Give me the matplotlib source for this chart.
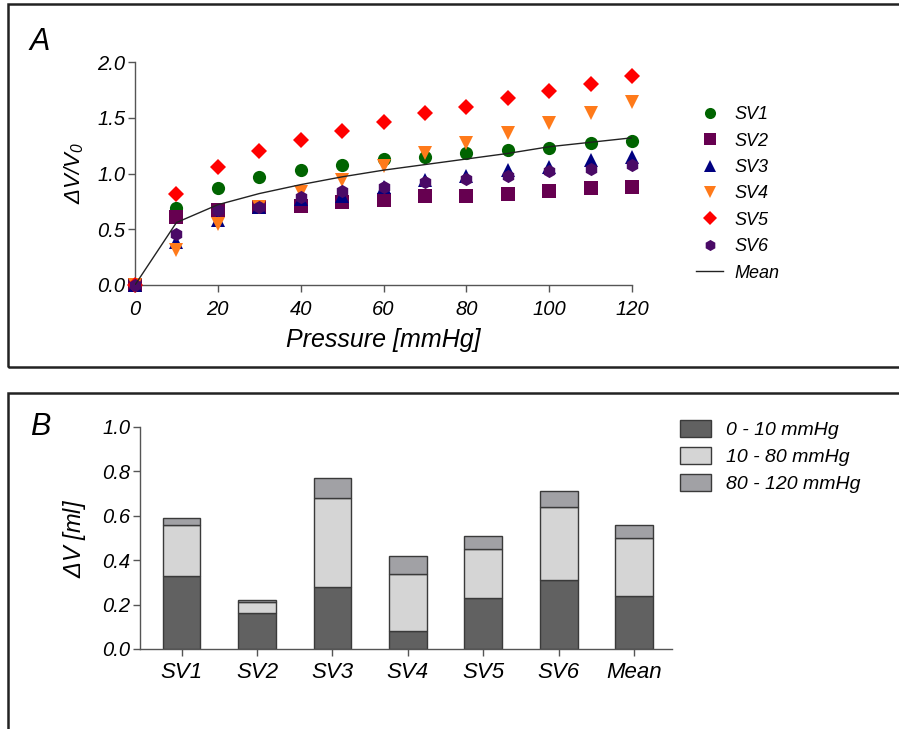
import numpy as np
import matplotlib.pyplot as plt
from matplotlib.patches import Rectangle
from matplotlib.lines import Line2D

plt.rcParams['font.family'] = ['Liberation Sans', 'DejaVu Sans']
plt.rcParams['font.style'] = 'italic'
plt.rcParams['mathtext.fontset'] = 'custom'
plt.rcParams['mathtext.rm'] = 'Liberation Sans:italic'
plt.rcParams['mathtext.it'] = 'Liberation Sans:italic'

# ── panel A data ───────────────────────────────────────────────────────────────
pressure = [0, 10, 20, 30, 40, 50, 60, 70, 80, 90, 100, 110, 120]
sv1 = [0, 0.69, 0.87, 0.97, 1.03, 1.08, 1.13, 1.15, 1.18, 1.21, 1.23, 1.27, 1.29]
sv2 = [0, 0.61, 0.67, 0.70, 0.71, 0.74, 0.76, 0.80, 0.80, 0.82, 0.84, 0.87, 0.88]
sv3 = [0, 0.39, 0.58, 0.70, 0.77, 0.80, 0.88, 0.94, 0.98, 1.03, 1.06, 1.12, 1.15]
sv4 = [0, 0.31, 0.55, 0.70, 0.83, 0.94, 1.07, 1.18, 1.27, 1.36, 1.45, 1.54, 1.64]
sv5 = [0, 0.82, 1.06, 1.20, 1.30, 1.38, 1.46, 1.54, 1.60, 1.68, 1.74, 1.80, 1.87]
sv6 = [0, 0.46, 0.67, 0.70, 0.79, 0.84, 0.88, 0.92, 0.95, 0.98, 1.02, 1.04, 1.08]
mean_curve = [0, 0.56, 0.72, 0.82, 0.90, 0.97, 1.03, 1.08, 1.13, 1.18, 1.24, 1.28, 1.32]

series_names   = ['SV1', 'SV2', 'SV3', 'SV4', 'SV5', 'SV6']
series_markers = ['o', 's', '^', 'v', 'D', 'h']
series_colors  = ['#006400', '#660050', '#000080', '#ff7a1a', '#ff0000', '#4a0a66']
series_sizes   = [9.5, 9.5, 9.5, 9.5, 8.5, 9.5]

# ── panel B data ───────────────────────────────────────────────────────────────
bar_labels = ['SV1', 'SV2', 'SV3', 'SV4', 'SV5', 'SV6', 'Mean']
seg_0_10   = [0.33, 0.16, 0.28, 0.08, 0.23, 0.31, 0.24]
seg_10_80  = [0.23, 0.05, 0.40, 0.26, 0.22, 0.33, 0.26]
seg_80_120 = [0.03, 0.01, 0.09, 0.08, 0.06, 0.07, 0.06]
seg_names  = ['0 - 10 mmHg', '10 - 80 mmHg', '80 - 120 mmHg']
seg_colors = ['#616161', '#d5d5d5', '#a1a1a5']

W, H = 899, 729
fig = plt.figure(figsize=(W / 100, H / 100), dpi=100)

def box(x0, y0, x1, y1):
    return [x0 / W, 1 - y1 / H, (x1 - x0) / W, (y1 - y0) / H]

# panel frames
fig.patches.append(Rectangle((8 / W, 1 - 367 / H), 900 / W, 363 / H, transform=fig.transFigure,
                             fill=False, edgecolor='#222222', linewidth=1.8))
fig.patches.append(Rectangle((8 / W, -0.05), 900 / W, 1 - 393 / H + 0.05, transform=fig.transFigure,
                             fill=False, edgecolor='#222222', linewidth=1.8))

fig.text(30 / W, 1 - 50 / H, 'A', fontsize=22)
fig.text(30 / W, 1 - 435 / H, 'B', fontsize=22)

spine_col = '#555555'

def style_axes(ax):
    for s in ['top', 'right']:
        ax.spines[s].set_visible(False)
    for s in ['left', 'bottom']:
        ax.spines[s].set_color(spine_col)
        ax.spines[s].set_linewidth(1.0)
    ax.tick_params(direction='out', length=5, width=1.0, color=spine_col,
                   labelsize=14.5, pad=2)

# ── panel A ────────────────────────────────────────────────────────────────────
ax1 = fig.add_axes(box(135, 62, 632, 285))
series = [sv1, sv2, sv3, sv4, sv5, sv6]
for vals, name, mk, col, ms in zip(series, series_names, series_markers, series_colors, series_sizes):
    ax1.plot(pressure, vals, linestyle='none', marker=mk, color=col, markersize=ms,
             markeredgewidth=0, label=name, clip_on=False, zorder=3)
ax1.plot(pressure, mean_curve, color='#222222', linewidth=1.0, label='Mean', zorder=4)
ax1.set_xlim(0, 120)
ax1.set_ylim(0, 2.0)
ax1.set_xticks(range(0, 121, 20))
ax1.set_yticks([0, 0.5, 1.0, 1.5, 2.0])
ax1.set_yticklabels(['0.0', '0.5', '1.0', '1.5', '2.0'])
style_axes(ax1)
ax1.tick_params(axis='x', pad=6)
ax1.set_xlabel('Pressure [mmHg]', fontsize=18, labelpad=6)
ax1.set_ylabel(r'$\Delta$V/V$_0$', fontsize=16, labelpad=8)

handles = [Line2D([], [], linestyle='none', marker=mk, color=col, markersize=ms - 1.5,
                  markeredgewidth=0)
           for mk, col, ms in zip(series_markers, series_colors, series_sizes)]
handles.append(Line2D([], [], color='#222222', linewidth=1.0))
fig.legend(handles, series_names + ['Mean'], loc='upper left',
           bbox_to_anchor=(680 / W, 1 - 90 / H), frameon=False,
           prop={'size': 13}, labelspacing=0.52,
           handlelength=1.5, handletextpad=0.6)

# ── panel B ────────────────────────────────────────────────────────────────────
ax2 = fig.add_axes(box(140, 427, 672, 649))
x = np.arange(len(bar_labels))
bottom = np.zeros(len(bar_labels))
bars = []
for vals, name, col in zip([seg_0_10, seg_10_80, seg_80_120], seg_names, seg_colors):
    b = ax2.bar(x, vals, width=0.5, bottom=bottom, color=col, edgecolor='#3a3a3a',
                linewidth=1.0, label=name)
    bars.append(b)
    bottom += np.array(vals)
ax2.set_xlim(-0.55, 6.5)
ax2.set_ylim(0, 1.0)
ax2.set_xticks(x)
ax2.set_xticklabels(bar_labels)
ax2.set_yticks([0, 0.2, 0.4, 0.6, 0.8, 1.0])
ax2.set_yticklabels(['0.0', '0.2', '0.4', '0.6', '0.8', '1.0'])
style_axes(ax2)
ax2.tick_params(axis='x', labelsize=16, pad=4)
ax2.set_ylabel(r'$\Delta$V [ml]', fontsize=17, labelpad=10)

fig.legend(bars, seg_names, loc='upper left', bbox_to_anchor=(662 / W, 1 - 402 / H),
           frameon=False, prop={'size': 14}, labelspacing=0.4,
           handlelength=1.6, handleheight=1.0, handletextpad=0.8)

fig.savefig('out.png', dpi=100)
